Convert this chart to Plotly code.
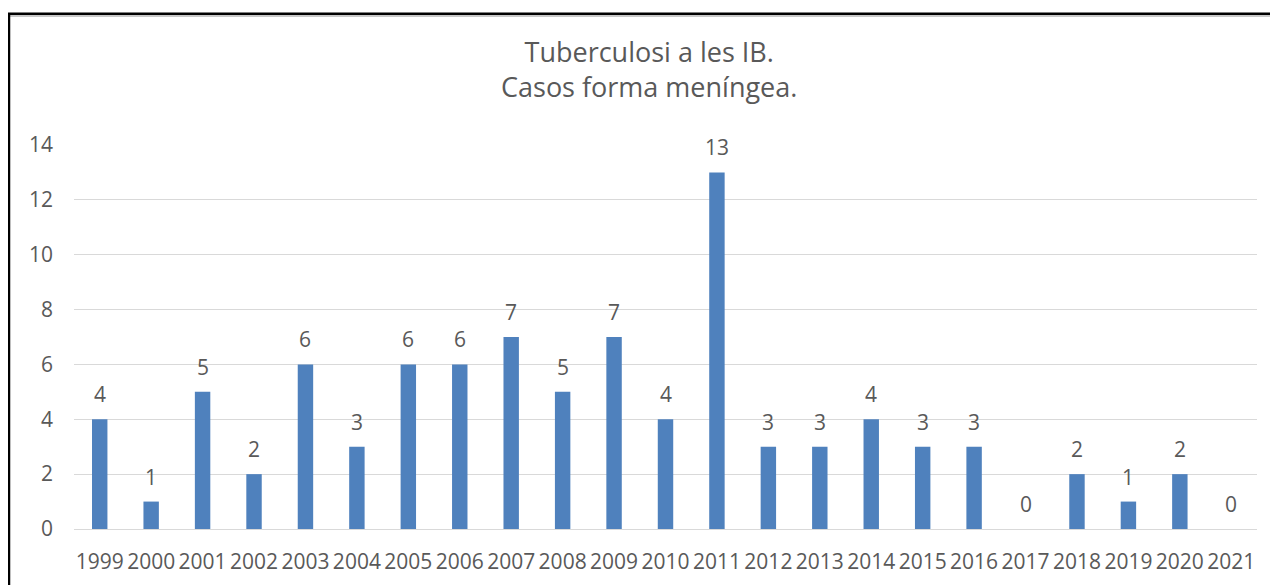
import plotly.graph_objects as go

years = [str(y) for y in range(1999, 2022)]
cases = [4, 1, 5, 2, 6, 3, 6, 6, 7, 5, 7, 4, 13, 3, 3, 4, 3, 3, 0, 2, 1, 2, 0]
title_lines = ["Tuberculosi a les IB.", "Casos forma meníngea."]
y_ticks = [0, 2, 4, 6, 8, 10, 12, 14]

FONT = "Open Sans"
GRAY = "#595959"
W, H = 1278, 585
# the page body adds an 8px offset; margins compensate for it
L, T = 66, 137
PW, PH = 1183, 384
R, B = W - L - PW, H - T - PH


def px_x(x):
    return (x - L) / PW


def px_y(y):
    return (T + PH - y) / PH


fig = go.Figure()
fig.add_trace(go.Bar(
    x=years, y=cases,
    marker=dict(color="#4F81BD", line=dict(width=0)),
    width=0.30,
    hoverinfo="x+y",
))

for i, v in enumerate(cases):
    fig.add_annotation(
        x=i, y=v, text=str(v), showarrow=False,
        yanchor="bottom", yshift=9,
        font=dict(family=FONT, size=21, color=GRAY),
    )

# title, two lines in one text
fig.add_annotation(
    xref="paper", yref="paper", x=px_x(641), y=px_y(60.5),
    text="<br>".join(title_lines), showarrow=False,
    xanchor="center", yanchor="middle", align="center",
    font=dict(family=FONT, size=27, color=GRAY),
)

# chart frame (extends beyond the visible picture on the right and bottom)
fig.add_shape(
    type="line", xref="paper", yref="paper",
    x0=px_x(2), x1=px_x(W + 20), y0=px_y(8), y1=px_y(8),
    line=dict(color="#C8C8C8", width=2), layer="above",
)
fig.add_shape(
    type="rect", xref="paper", yref="paper",
    x0=px_x(1), x1=px_x(W + 20), y0=px_y(H + 40), y1=px_y(5.7),
    line=dict(color="black", width=2.5), fillcolor="rgba(0,0,0,0)",
    layer="above",
)

fig.update_layout(
    width=W, height=H,
    margin=dict(l=L, r=R, t=T, b=B, pad=0, autoexpand=False),
    paper_bgcolor="white", plot_bgcolor="white",
    showlegend=False,
    font=dict(family=FONT, color=GRAY, size=21),
    xaxis=dict(
        type="category", range=[-0.5, len(years) - 0.5], automargin=False,
        showgrid=False, showline=False, zeroline=False,
        ticks="", tickfont=dict(family=FONT, size=21, color=GRAY),
        ticklabelstandoff=18,
    ),
    yaxis=dict(
        range=[0, 14], tickvals=y_ticks, showgrid=True, automargin=False,
        gridcolor="#D9D9D9", gridwidth=1, zeroline=True,
        zerolinecolor="#D9D9D9", zerolinewidth=1, showline=False, ticks="",
        tickfont=dict(family=FONT, size=21, color=GRAY),
        ticklabelstandoff=20,
    ),
)

fig.write_html("out.html")
